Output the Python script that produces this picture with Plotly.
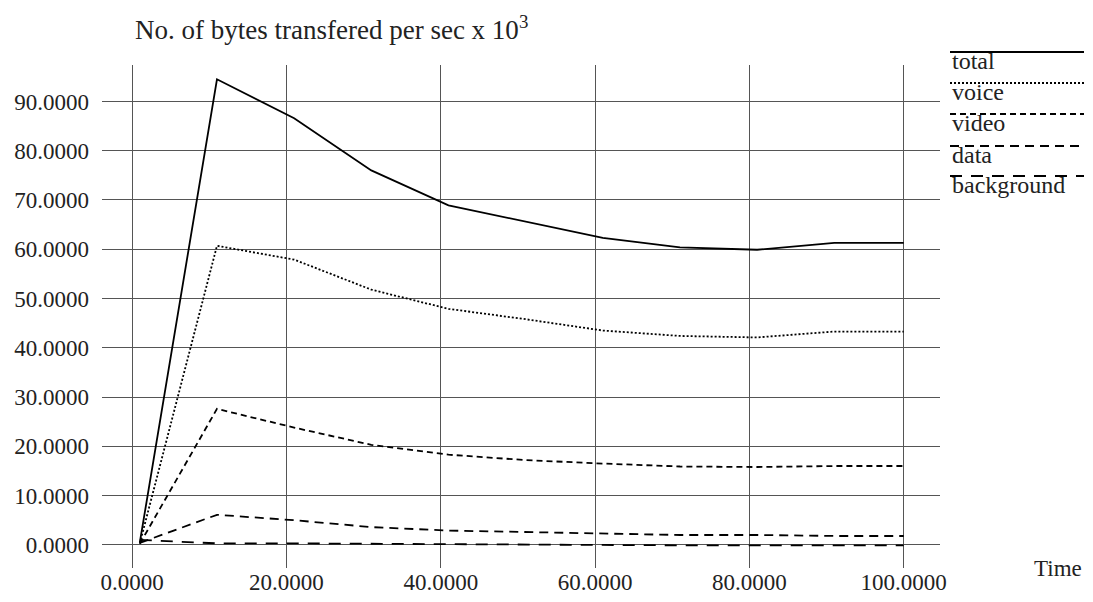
import plotly.graph_objects as go

# ---- data ----
time = [1, 11, 21, 31, 41, 51, 61, 71, 81, 91, 100]
total = [0.5, 94.5, 86.6, 76.0, 68.9, 65.6, 62.3, 60.4, 59.9, 61.3, 61.3]
voice = [0.3, 60.7, 57.9, 51.8, 47.9, 45.8, 43.5, 42.4, 42.1, 43.3, 43.3]
video = [0.2, 27.6, 23.8, 20.3, 18.3, 17.2, 16.5, 15.9, 15.8, 16.0, 16.0]
data = [0.4, 6.1, 5.0, 3.6, 2.9, 2.6, 2.2, 2.0, 2.0, 1.8, 1.8]
background = [1.0, 0.3, 0.3, 0.2, 0.1, 0.0, -0.1, -0.1, -0.1, -0.1, -0.1]

series_names = ["total", "voice", "video", "data", "background"]
series_values = [total, voice, video, data, background]
dashes = ["solid", "2px,2px", "6px,4px", "9px,6px", "12px,9px"]

title_text = "No. of bytes transfered per sec x 10<sup>3</sup>"
xlabel_text = "Time"

# page has an 8px body margin; work in screenshot coordinates and shift
OFF = 8
SW, SH = 1093, 602
W, H = SW - 2 * OFF, SH - 2 * OFF
# plot area in screenshot pixels
SL, SR, ST, SB = 102, 940, 65, 568
L, R, T, B = SL - OFF, SR - OFF, ST - OFF, SB - OFF
FONT = "Liberation Serif, Times New Roman, serif"


def px_x(p):
    return (p - OFF - L) / (R - L)


def px_y(p):
    return (B - (p - OFF)) / (B - T)


fig = go.Figure()
for name, vals, d in zip(series_names, series_values, dashes):
    fig.add_trace(go.Scatter(
        x=time, y=vals, name=name, mode="lines",
        line=dict(color="black", width=1.8, dash=d),
        showlegend=False,
    ))

fig.update_layout(
    width=W, height=H,
    margin=dict(l=L, r=W - R, t=T, b=H - B, pad=0, autoexpand=False),
    paper_bgcolor="white", plot_bgcolor="white",
    font=dict(family=FONT, size=23, color="#222"),
    xaxis=dict(range=[-3.9, 104.7], tick0=0, dtick=20, tickformat=".4f",
               showgrid=True, gridcolor="#555", gridwidth=1,
               zeroline=False, showline=False, ticks="",
               ticklabelstandoff=-2, automargin=False),
    yaxis=dict(range=[-4.7, 97.4], tick0=0, dtick=10, tickformat=".4f",
               showgrid=True, gridcolor="#555", gridwidth=1,
               zeroline=False, showline=False, ticks="",
               ticklabelstandoff=12, automargin=False),
)

# title
fig.add_annotation(text=title_text, xref="paper", yref="paper",
                   x=px_x(133), y=px_y(28), xanchor="left", yanchor="middle",
                   showarrow=False, font=dict(size=27))
# x label
fig.add_annotation(text=xlabel_text, xref="paper", yref="paper",
                   x=px_x(1084), y=px_y(568), xanchor="right", yanchor="middle",
                   showarrow=False, font=dict(size=23))

# manual legend: line above label
legend_line_y = [52, 83, 114, 146, 176]
for name, d, ly in zip(series_names, dashes, legend_line_y):
    fig.add_shape(type="line", xref="paper", yref="paper",
                  x0=px_x(950), x1=px_x(1084), y0=px_y(ly), y1=px_y(ly),
                  line=dict(color="black", width=1.8, dash=d))
    fig.add_annotation(text=name, xref="paper", yref="paper",
                       x=px_x(950), y=px_y(ly + 9), xanchor="left", yanchor="middle",
                       showarrow=False, font=dict(size=24))

fig.write_html("out.html")
